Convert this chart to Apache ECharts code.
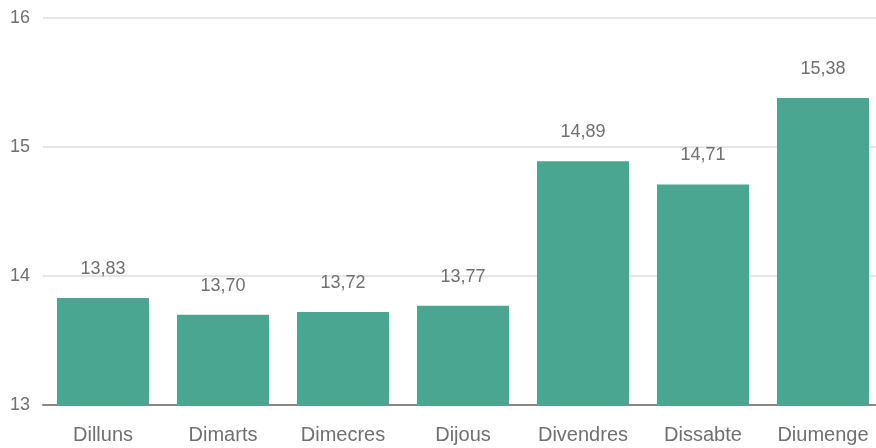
<!DOCTYPE html>
<html>
<head>
<meta charset="utf-8">
<style>
  html, body { margin: 0; padding: 0; background: #fff; }
  #chart { width: 876px; height: 448px; }
</style>
<script src="https://cdn.jsdelivr.net/npm/echarts@6/dist/echarts.min.js"></script>
</head>
<body>
<div id="chart"></div>
<script>
// Days of the week (Catalan) and the value for each day
const days = ['Dilluns', 'Dimarts', 'Dimecres', 'Dijous', 'Divendres', 'Dissabte', 'Diumenge'];
const values = [13.83, 13.70, 13.72, 13.77, 14.89, 14.71, 15.38];
const yTicks = [13, 14, 15, 16];

const FONT = '"Liberation Sans", "Helvetica Neue", Arial, sans-serif';
const TEXT = '#707070';
const chart = echarts.init(document.getElementById('chart'), null, { renderer: 'canvas' });

chart.setOption({
  animation: false,
  grid: {
    left: 43, top: 18, width: 840, bottom: 43,
    containLabel: false,
    outerBoundsMode: 'none'
  },
  xAxis: {
    type: 'category',
    data: days,
    axisTick: { show: false },
    axisLine: { show: true, lineStyle: { color: '#888', width: 2 } },
    axisLabel: { color: TEXT, fontSize: 20, fontFamily: FONT, margin: 20 }
  },
  yAxis: {
    type: 'value',
    min: yTicks[0],
    max: yTicks[yTicks.length - 1],
    interval: 1,
    axisLine: { show: false },
    axisTick: { show: false },
    splitLine: { lineStyle: { color: '#e6e6e6', width: 2 } },
    axisLabel: { color: TEXT, fontSize: 18, fontFamily: FONT, margin: 13 }
  },
  series: [{
    type: 'bar',
    data: values,
    barWidth: 92,
    itemStyle: { color: '#4aa690' },
    label: {
      show: true,
      position: 'top',
      distance: 20,
      color: TEXT,
      fontSize: 18,
      fontFamily: FONT,
      formatter: p => p.value.toFixed(2).replace('.', ',')
    }
  }]
});
</script>
</body>
</html>
